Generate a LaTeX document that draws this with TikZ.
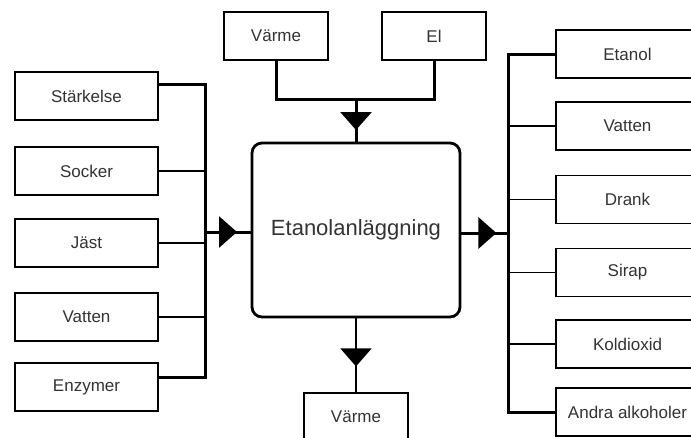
\documentclass[tikz,border=0pt]{standalone}
\usepackage{fontspec}
\setmainfont{Liberation Sans}
\usetikzlibrary{positioning, arrows.meta, decorations.markings}
\definecolor{ink}{HTML}{333333}

\begin{document}
\begin{tikzpicture}[x=1pt, y=-1pt,
  box/.style={draw=black, line width=1.5pt, fill=white, minimum width=143pt,
              minimum height=48pt, inner sep=0pt, text=ink, font=\fontsize{17}{20}\selectfont},
  smallbox/.style={box, minimum width=104pt},
  plant/.style={draw=black, line width=2.8pt, rounded corners=10pt, minimum width=208pt,
                minimum height=174pt, text=ink, font=\fontsize{22}{26}\selectfont},
  bus/.style={line width=3pt},
  feed/.style={line width=1.1pt},
  mid/.style={postaction={decorate, decoration={markings,
              mark=at position #1 with {\arrow{Triangle[width=31pt, length=18pt]}}}}}]
  \useasboundingbox (0,0) rectangle (691,437);
  \clip (0,0) rectangle (691,437);

  % Plant
  \node[plant] (main) at (356,230) {Etanolanläggning};

  % Raw materials
  \foreach \n/\y/\t in {sta/96/Stärkelse, soc/171/Socker, jas/243/Jäst, lva/317/Vatten, enz/387/Enzymer} {
    \node[box] (\n) at (86.5,\y) {\t};
  }

  % Energy in and out
  \node[smallbox] (tv) at (276,36) {Värme};
  \node[smallbox] (el) at (434,36) {El};
  \node[smallbox] (bv) at (356,417) {Värme};

  % Products
  \foreach \n/\y/\t in {eta/54/Etanol, rva/126/Vatten, dra/199.5/Drank, sir/272.5/Sirap, kol/344/Koldioxid, alk/412/Andra alkoholer} {
    \node[box] (\n) at (627.5,\y) {\t};
  }

  % Bus lines
  \coordinate (lbus) at (205,232);
  \coordinate (rbus) at (508,233);
  \coordinate (ptop) at (356,99);

  \draw[bus] ([yshift=12pt]sta.east) -| (lbus) |- ([yshift=10pt]enz.east);
  \foreach \n in {soc, jas, lva} {
    \draw[feed] (\n.east) -- (\n.east -| lbus);
  }
  \draw[bus, mid=32pt] (lbus) -- (lbus -| main.west);

  \draw[bus] (tv.south) |- (ptop) -| (el.south);
  \draw[bus, mid=31pt] (ptop) -- (ptop |- main.north);

  \draw[line width=1.8pt, mid=48pt] (main.south) -- (bv.north);

  \draw[bus, mid=35pt] (rbus -| main.east) -- (rbus);
  \draw[bus] (eta.west) -| (rbus) |- (alk.west);
  \foreach \n in {rva, dra, sir, kol} {
    \draw[feed] (\n.west) -- (\n.west -| rbus);
  }
\end{tikzpicture}
\end{document}
